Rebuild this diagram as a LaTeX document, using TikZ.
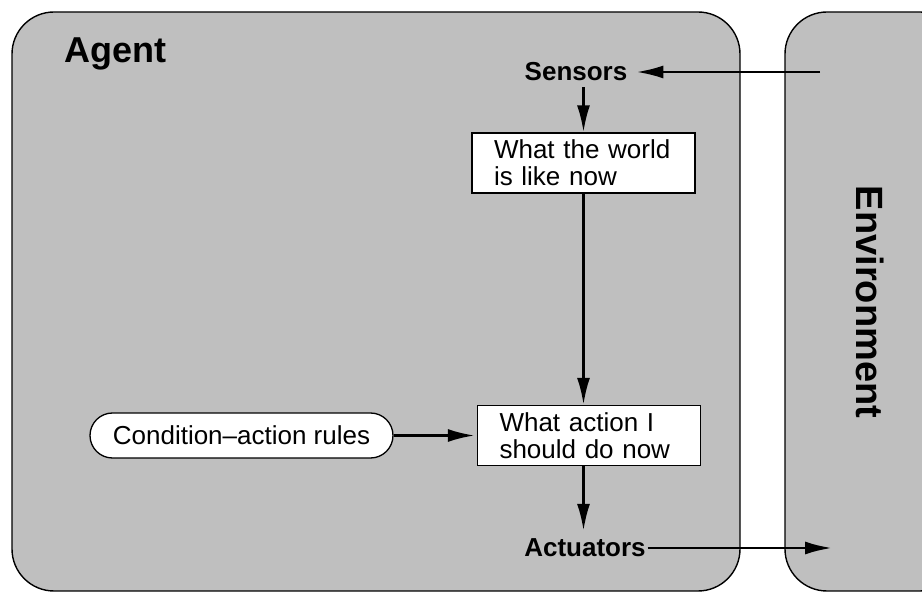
\documentclass[tikz,border=0pt]{standalone}
\usepackage{fontspec}
\setmainfont{Liberation Sans}
\usetikzlibrary{arrows.meta,shapes.misc}
\definecolor{panel}{RGB}{191,191,191}
\begin{document}
\begin{tikzpicture}[x=1pt,y=-1pt,
  panelbox/.style={draw=black,line width=1.4pt,fill=panel,rounded corners=42pt},
  infobox/.style={draw=black,line width=1.3pt,fill=white,align=left,inner xsep=22pt,inner ysep=0pt,
    text width=179pt,minimum height=60pt,font=\fontsize{26}{27}\selectfont},
  rulebox/.style={draw=black,line width=1.3pt,fill=white,rounded rectangle,inner sep=0pt,
    minimum width=303pt,minimum height=45pt,font=\fontsize{26}{27}\selectfont},
  flow/.style={line width=2.8pt,-{Latex[length=27pt,width=13pt]}},
  lab/.style={font=\bfseries\fontsize{26}{28}\selectfont,inner sep=0pt,outer sep=0pt},
  title/.style={font=\bfseries\fontsize{36}{38}\selectfont,inner sep=0pt}
]
\useasboundingbox (0,0) rectangle (922,593);
\begin{scope}
  \clip (0,0) rectangle (922,593);
  \draw[panelbox] (12,12) rectangle (740,591);
  \draw[panelbox] (785,12) rectangle (962,591);
\end{scope}

\node[title,anchor=base west] (agent) at (64,63) {Agent};
\node[title,font=\bfseries\fontsize{38}{40}\selectfont,rotate=-90] (env) at (870,302) {Environment};

\node[lab] (sensors) at (576,72) {Sensors};
\node[infobox] (w1) at (583.5,163) {What the world\\is like now};
\node[infobox] (w2) at (589,435.5) {What action I\\should do now};
\node[rulebox] (rules) at (241.5,435.5) {Condition--action rules};
\node[lab] (actuators) at (585,548) {Actuators};

\coordinate (envin) at (820,72);
\coordinate (envout) at (832,548);

\draw[flow,shorten >=9pt] (envin) -- (sensors.east);
\draw[flow,shorten <=6pt] (w1.north |- sensors.south) -- (w1.north);
\draw[flow] (w1.south) -- (w1.south |- w2.north);
\draw[flow,shorten >=2pt] (rules.east) -- (w2.west);
\draw[flow,shorten >=8pt] (w1.south |- w2.south) -- (w1.south |- actuators.north);
\draw[flow,shorten <=2pt] (actuators.east) -- (envout);
\end{tikzpicture}
\end{document}
